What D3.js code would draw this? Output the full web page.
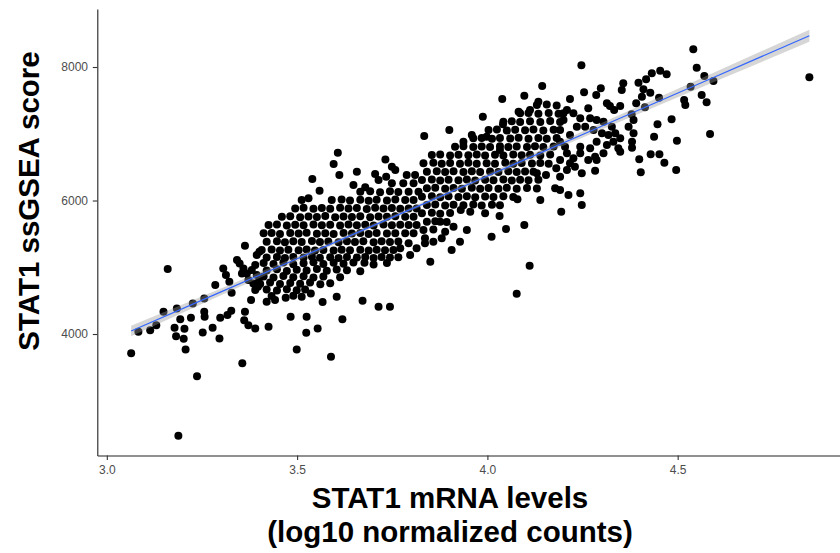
<!DOCTYPE html>
<html>
<head>
<meta charset="utf-8">
<script src="https://cdn.jsdelivr.net/npm/d3@7"></script>
<style>
  html, body { margin: 0; padding: 0; background: #fff; }
  svg { display: block; font-family: "Liberation Sans", Arial, sans-serif; }
</style>
</head>
<body>
<svg id="chart" width="840" height="553"></svg>
<script>
// tick labels
const xTicks = [3.0, 3.5, 4.0, 4.5];
const yTicks = [4000, 6000, 8000];

// linear fit (geom_smooth, method = lm)
const fitX  = [3.064, 3.3, 3.5, 3.75, 4.0, 4.3, 4.6, 4.846];
const fitY  = [4045, 4631, 5127, 5748, 6368, 7113, 7857, 8469];
const fitSe = [80, 52, 35, 26, 32, 50, 72, 90];

// [STAT1 mRNA (log10 counts), STAT1 ssGSEA score]
const samples = [
  // low left tail
  [3.188,2477],[3.064,3713],[3.083,4033],[3.114,4058],[3.130,4133],[3.149,4333],[3.160,4973],
  [3.184,4383],[3.178,4093],[3.193,4223],[3.182,3968],[3.204,4078],[3.202,3928],[3.207,3768],
  [3.221,4243],[3.226,4458],[3.237,3368],[3.252,4023],[3.256,4533],[3.256,4333],[3.257,4258],
  [3.278,4093],[3.285,4733],[3.296,3933],[3.298,4243],[3.306,4983],[3.313,4883],[3.317,4283],
  [3.322,4783],[3.327,4348],[3.328,4618],[3.342,5108],[3.349,5058],[3.356,3563],[3.361,4208],
  [3.363,4333],[3.363,5323],[3.372,4133],[3.379,4508],[3.390,4083],[3.394,5183],[3.401,5233],
  [3.368,4908],[3.381,4958],[3.390,5033],[3.385,4758],[3.359,4983],[3.372,4808],[3.355,4908],
  [3.394,4883],[3.399,4783],[3.390,4658],[3.397,4708],
  [3.425,4108],[3.420,4483],[3.442,4508],[3.470,4543],[3.483,4258],[3.499,3768],[3.525,4258],
  [3.524,4018],[3.536,4608],[3.554,4083],[3.567,4478],[3.589,3658],[3.604,4558],[3.619,4223],
  [3.672,4498],[3.714,4408],[3.744,4408],[3.677,5068],
  // lower part of the main cloud, 3.4 - 3.75
  [3.412,5062],[3.438,5050],[3.464,5070],[3.490,5045],[3.517,5060],[3.543,5075],[3.569,5048],
  [3.596,5066],[3.622,5052],[3.648,5070],[3.701,5040],[3.736,5062],
  [3.420,4950],[3.447,4972],[3.473,4945],[3.499,4962],[3.525,4950],[3.552,4975],[3.578,4948],
  [3.604,4966],[3.631,4955],[3.666,4940],
  [3.412,4862],[3.438,4845],[3.464,4870],[3.490,4852],[3.517,4866],[3.543,4848],[3.569,4860],
  [3.613,4850],
  [3.403,4750],[3.429,4770],[3.455,4748],[3.482,4765],[3.508,4752],[3.534,4770],[3.561,4745],
  [3.587,4762],
  [3.420,4665],[3.447,4650],[3.473,4672],[3.499,4655],[3.521,4668],
  [3.433,4568],[3.490,4575],[3.512,4560],
  // middle of the cloud, 3.4 - 3.77
  [3.749,6257],
  [3.666,6132],[3.692,6140],[3.718,6125],[3.744,6138],[3.766,6128],
  [3.591,6007],[3.617,6015],[3.639,6000],[3.666,6012],[3.688,5998],[3.709,6010],[3.736,6002],
  [3.758,6016],
  [3.495,5882],[3.517,5890],[3.543,5875],[3.565,5888],[3.587,5878],[3.613,5892],[3.635,5880],
  [3.657,5886],[3.683,5874],[3.705,5890],[3.727,5880],[3.749,5888],[3.771,5876],
  [3.460,5757],[3.482,5765],[3.508,5750],[3.530,5762],[3.552,5754],[3.574,5768],[3.600,5750],
  [3.622,5760],[3.644,5752],[3.666,5766],[3.692,5750],[3.714,5762],[3.736,5755],[3.758,5764],
  [3.425,5633],[3.447,5640],[3.473,5626],[3.495,5638],[3.517,5630],[3.543,5642],[3.565,5628],
  [3.587,5636],[3.613,5625],[3.635,5640],[3.657,5630],[3.679,5638],[3.701,5626],[3.727,5640],
  [3.749,5630],[3.771,5636],
  [3.412,5508],[3.433,5515],[3.455,5500],[3.482,5512],[3.504,5505],[3.525,5518],[3.552,5502],
  [3.574,5510],[3.596,5500],[3.622,5515],[3.644,5505],[3.666,5512],[3.688,5500],[3.709,5514],
  [3.736,5506],[3.758,5510],
  [3.420,5383],[3.447,5390],[3.468,5376],[3.490,5388],[3.512,5380],[3.539,5392],[3.560,5378],
  [3.582,5386],[3.609,5375],[3.631,5390],[3.652,5380],[3.674,5388],[3.701,5376],[3.722,5390],
  [3.744,5380],[3.766,5386],
  [3.407,5258],[3.433,5265],[3.455,5250],[3.477,5262],[3.504,5255],[3.525,5266],[3.547,5252],
  [3.569,5260],[3.596,5250],[3.617,5264],[3.639,5255],[3.666,5262],[3.688,5250],[3.709,5264],
  [3.731,5256],[3.753,5260],
  [3.420,5148],[3.447,5155],[3.468,5140],[3.490,5152],[3.517,5145],[3.539,5156],[3.560,5142],
  [3.587,5150],[3.609,5140],[3.631,5154],[3.657,5145],[3.679,5152],[3.701,5140],[3.722,5154],
  [3.744,5146],[3.766,5150],
  // upper edge of the cloud, 3.5 - 3.76
  [3.607,6716],[3.596,6546],[3.611,6382],[3.540,6322],[3.559,6147],[3.657,6432],[3.679,6197],
  [3.648,6232],[3.732,6616],[3.705,6396],[3.714,6307],[3.749,6506],[3.758,6456],[3.734,6357],
  [3.512,6007],[3.530,6032],
  // band around 3.78 - 3.82
  [3.788,6382],[3.810,6382],[3.779,6257],[3.806,6257],[3.793,6132],[3.819,6132],[3.784,6007],
  [3.806,6007],[3.793,5882],[3.814,5882],[3.784,5757],[3.806,5757],[3.793,5633],[3.814,5633],
  [3.784,5508],[3.806,5508],
  [3.771,5283],[3.793,5358],[3.814,5283],[3.836,5358],[3.858,5383],[3.880,5433],[3.906,5258],
  [3.850,5083],[3.928,5383],[4.111,5024],[4.077,4605],[3.797,5183],
  // 3.82 - 4.2, sparse points
  [3.834,6966],[3.900,7056],[3.988,7256],[4.039,7520],[4.082,7331],[4.097,7570],[4.144,7715],
  [4.134,7480],[4.041,7141],[3.937,6881],[3.959,6981],[3.998,6956],[4.033,6756],[4.112,7356],
  [3.930,5858],[3.955,5833],[4.032,5768],[4.049,5573],[4.097,5633],[4.079,6017],[4.139,6007],
  [4.178,6182],[4.194,5833],[4.248,5933],[4.130,6407],[4.154,6382],[4.181,6482],[3.994,5808],
  [4.011,5458],[3.911,5608],[3.876,5683],[3.889,5533],[3.946,5558],
  // 3.82 - 4.2, dense part
  [4.130,7430],[4.156,7438],[4.182,7425],
  [4.086,7306],[4.108,7312],[4.134,7298],[4.161,7310],[4.187,7300],
  [4.042,7181],[4.064,7188],[4.086,7175],[4.112,7186],[4.139,7178],[4.165,7190],[4.191,7176],
  [4.003,7056],[4.025,7062],[4.051,7050],[4.073,7060],[4.099,7052],[4.121,7064],[4.147,7050],
  [4.174,7060],
  [3.963,6931],[3.985,6938],[4.012,6925],[4.033,6936],[4.060,6928],[4.082,6940],[4.108,6925],
  [4.134,6935],[4.156,6926],[4.182,6938],
  [3.915,6806],[3.937,6812],[3.963,6800],[3.985,6810],[4.007,6802],[4.033,6814],[4.055,6800],
  [4.077,6808],[4.104,6800],[4.125,6812],[4.147,6802],[4.174,6810],
  [3.854,6681],[3.876,6688],[3.902,6675],[3.924,6686],[3.950,6678],[3.972,6690],[3.994,6676],
  [4.020,6684],[4.042,6675],[4.068,6688],[4.090,6678],[4.112,6686],[4.139,6676],[4.165,6688],
  [3.832,6557],[3.858,6564],[3.880,6550],[3.902,6562],[3.928,6552],[3.950,6565],[3.972,6550],
  [3.998,6560],[4.020,6552],[4.047,6564],[4.068,6550],[4.090,6562],[4.117,6554],[4.139,6562],
  [4.161,6552],
  [3.841,6432],[3.867,6440],[3.889,6426],[3.911,6438],[3.937,6428],[3.959,6440],[3.981,6426],
  [4.007,6436],[4.029,6428],[4.055,6440],[4.077,6426],[4.099,6436],[4.121,6430],
  [3.828,6307],[3.854,6314],[3.876,6300],[3.898,6312],[3.924,6302],[3.946,6314],[3.968,6300],
  [3.994,6310],[4.016,6302],[4.042,6314],[4.064,6300],[4.086,6310],[4.108,6302],[4.134,6312],
  [3.841,6182],[3.863,6190],[3.889,6176],[3.911,6188],[3.933,6178],[3.959,6190],[3.981,6176],
  [4.003,6186],[4.029,6178],[4.051,6190],[4.077,6176],[4.104,6186],[4.130,6180],
  [3.828,6057],[3.854,6064],[3.876,6050],[3.898,6062],[3.924,6052],[3.946,6064],[3.968,6050],
  [3.994,6060],[4.016,6052],[4.042,6064],[4.068,6052],
  [3.841,5932],[3.863,5940],[3.889,5926],[3.911,5938],[3.937,5928],[3.963,5940],[3.985,5926],
  [4.012,5936],[4.033,5928],
  [3.828,5808],[3.854,5815],[3.876,5800],[3.902,5812],
  [3.841,5683],[3.863,5690],[3.893,5678],
  [3.832,5558],[3.858,5565],
  [3.836,5433],
  // upper right, 4.19 - 4.85
  [4.846,7845],[4.541,8265],[4.550,7990],[4.570,7865],[4.594,7790],[4.534,7705],[4.517,7506],
  [4.520,7431],[4.563,7581],[4.576,7471],[4.585,6996],[4.484,7216],[4.498,6897],[4.447,7141],
  [4.438,6956],[4.429,6692],[4.452,6692],[4.465,6567],[4.496,6457],[4.403,6422],[4.399,6617],
  [4.380,6792],[4.247,8025],[4.254,7621],[4.217,7521],[4.283,6447],[4.248,6407],[4.286,7581],
  [4.298,7681],[4.357,7755],[4.353,7656],[4.397,7765],[4.410,7665],[4.406,7556],[4.417,7815],
  [4.432,7905],[4.454,7945],[4.471,7890],[4.428,7616],[4.451,7541],[4.391,7456],[4.414,7396],
  [4.379,7291],[4.384,7206],[4.322,7416],[4.314,7456],[4.349,7416],[4.333,7356],[4.265,7381],
  [4.209,7356],[4.200,7306],[4.226,7306],[4.244,7231],[4.270,7231],[4.287,7206],[4.305,7181],
  [4.327,7106],[4.336,7006],[4.349,6931],[4.331,6882],[4.344,6782],[4.349,6732],[4.384,7006],
  [4.371,7106],[4.380,6882],[4.235,7106],[4.257,7106],[4.279,7056],[4.301,7006],[4.318,6981],
  [4.287,6882],[4.270,6782],[4.244,6807],[4.217,6981],[4.191,6882],[4.209,6707],[4.244,6707],
  [4.283,6657],[4.226,6632],[4.217,6557],[4.191,6607],[4.209,6457],[4.191,6357],[4.213,6083],
  [4.244,6108],[4.191,6158],[4.287,6607],[4.305,6707],[4.314,6832],[4.265,6607],[4.200,7206],
  [4.191,7056],[4.204,6807],[4.230,6507]
];

const svg = d3.select('#chart');

const x = d3.scaleLinear().domain([2.975, 4.937]).range([97.3, 844]);
const y = d3.scaleLinear().domain([2180, 8869]).range([455.5, 9]);

// points
svg.append('g')
  .selectAll('circle')
  .data(samples)
  .join('circle')
    .attr('cx', d => x(d[0]))
    .attr('cy', d => y(d[1]))
    .attr('r', 4)
    .attr('fill', '#000');

// confidence ribbon + fitted line, drawn over the points like ggplot does
const fit = fitX.map((v, i) => ({ x: v, y: fitY[i], se: fitSe[i] }));

svg.append('path')
  .datum(fit)
  .attr('fill', '#999999')
  .attr('fill-opacity', 0.4)
  .attr('d', d3.area()
    .x(d => x(d.x))
    .y0(d => y(d.y - d.se))
    .y1(d => y(d.y + d.se)));

svg.append('path')
  .datum(fit)
  .attr('fill', 'none')
  .attr('stroke', '#3366FF')
  .attr('stroke-width', 1.2)
  .attr('d', d3.line().x(d => x(d.x)).y(d => y(d.y)));

// axes
const xAxis = svg.append('g')
  .attr('transform', 'translate(0,455.5)')
  .call(d3.axisBottom(x).tickValues(xTicks).tickFormat(d3.format('.1f'))
    .tickSize(4.5).tickSizeOuter(0).tickPadding(5));

const yAxis = svg.append('g')
  .attr('transform', 'translate(97.3,0)')
  .call(d3.axisLeft(y).tickValues(yTicks).tickFormat(d3.format('d'))
    .tickSize(4.5).tickSizeOuter(0).tickPadding(4.8));

[xAxis, yAxis].forEach(g => {
  g.select('.domain').attr('stroke', '#222').attr('stroke-width', 1.1);
  g.selectAll('.tick line').attr('stroke', '#333').attr('stroke-width', 1.1);
  g.selectAll('.tick text')
    .attr('fill', '#4d4d4d')
    .attr('font-size', '12px')
    .attr('font-family', '"Liberation Sans", Arial, sans-serif');
});

// axis titles
svg.append('text')
  .attr('transform', 'translate(39,201) rotate(-90)')
  .attr('text-anchor', 'middle')
  .attr('font-weight', 'bold')
  .attr('font-size', '29.5px')
  .text('STAT1 ssGSEA score');

svg.append('text')
  .attr('x', 450)
  .attr('y', 508)
  .attr('text-anchor', 'middle')
  .attr('font-weight', 'bold')
  .attr('font-size', '29.5px')
  .text('STAT1 mRNA levels');

svg.append('text')
  .attr('x', 450)
  .attr('y', 542)
  .attr('text-anchor', 'middle')
  .attr('font-weight', 'bold')
  .attr('font-size', '29.5px')
  .text('(log10 normalized counts)');
</script>
</body>
</html>
